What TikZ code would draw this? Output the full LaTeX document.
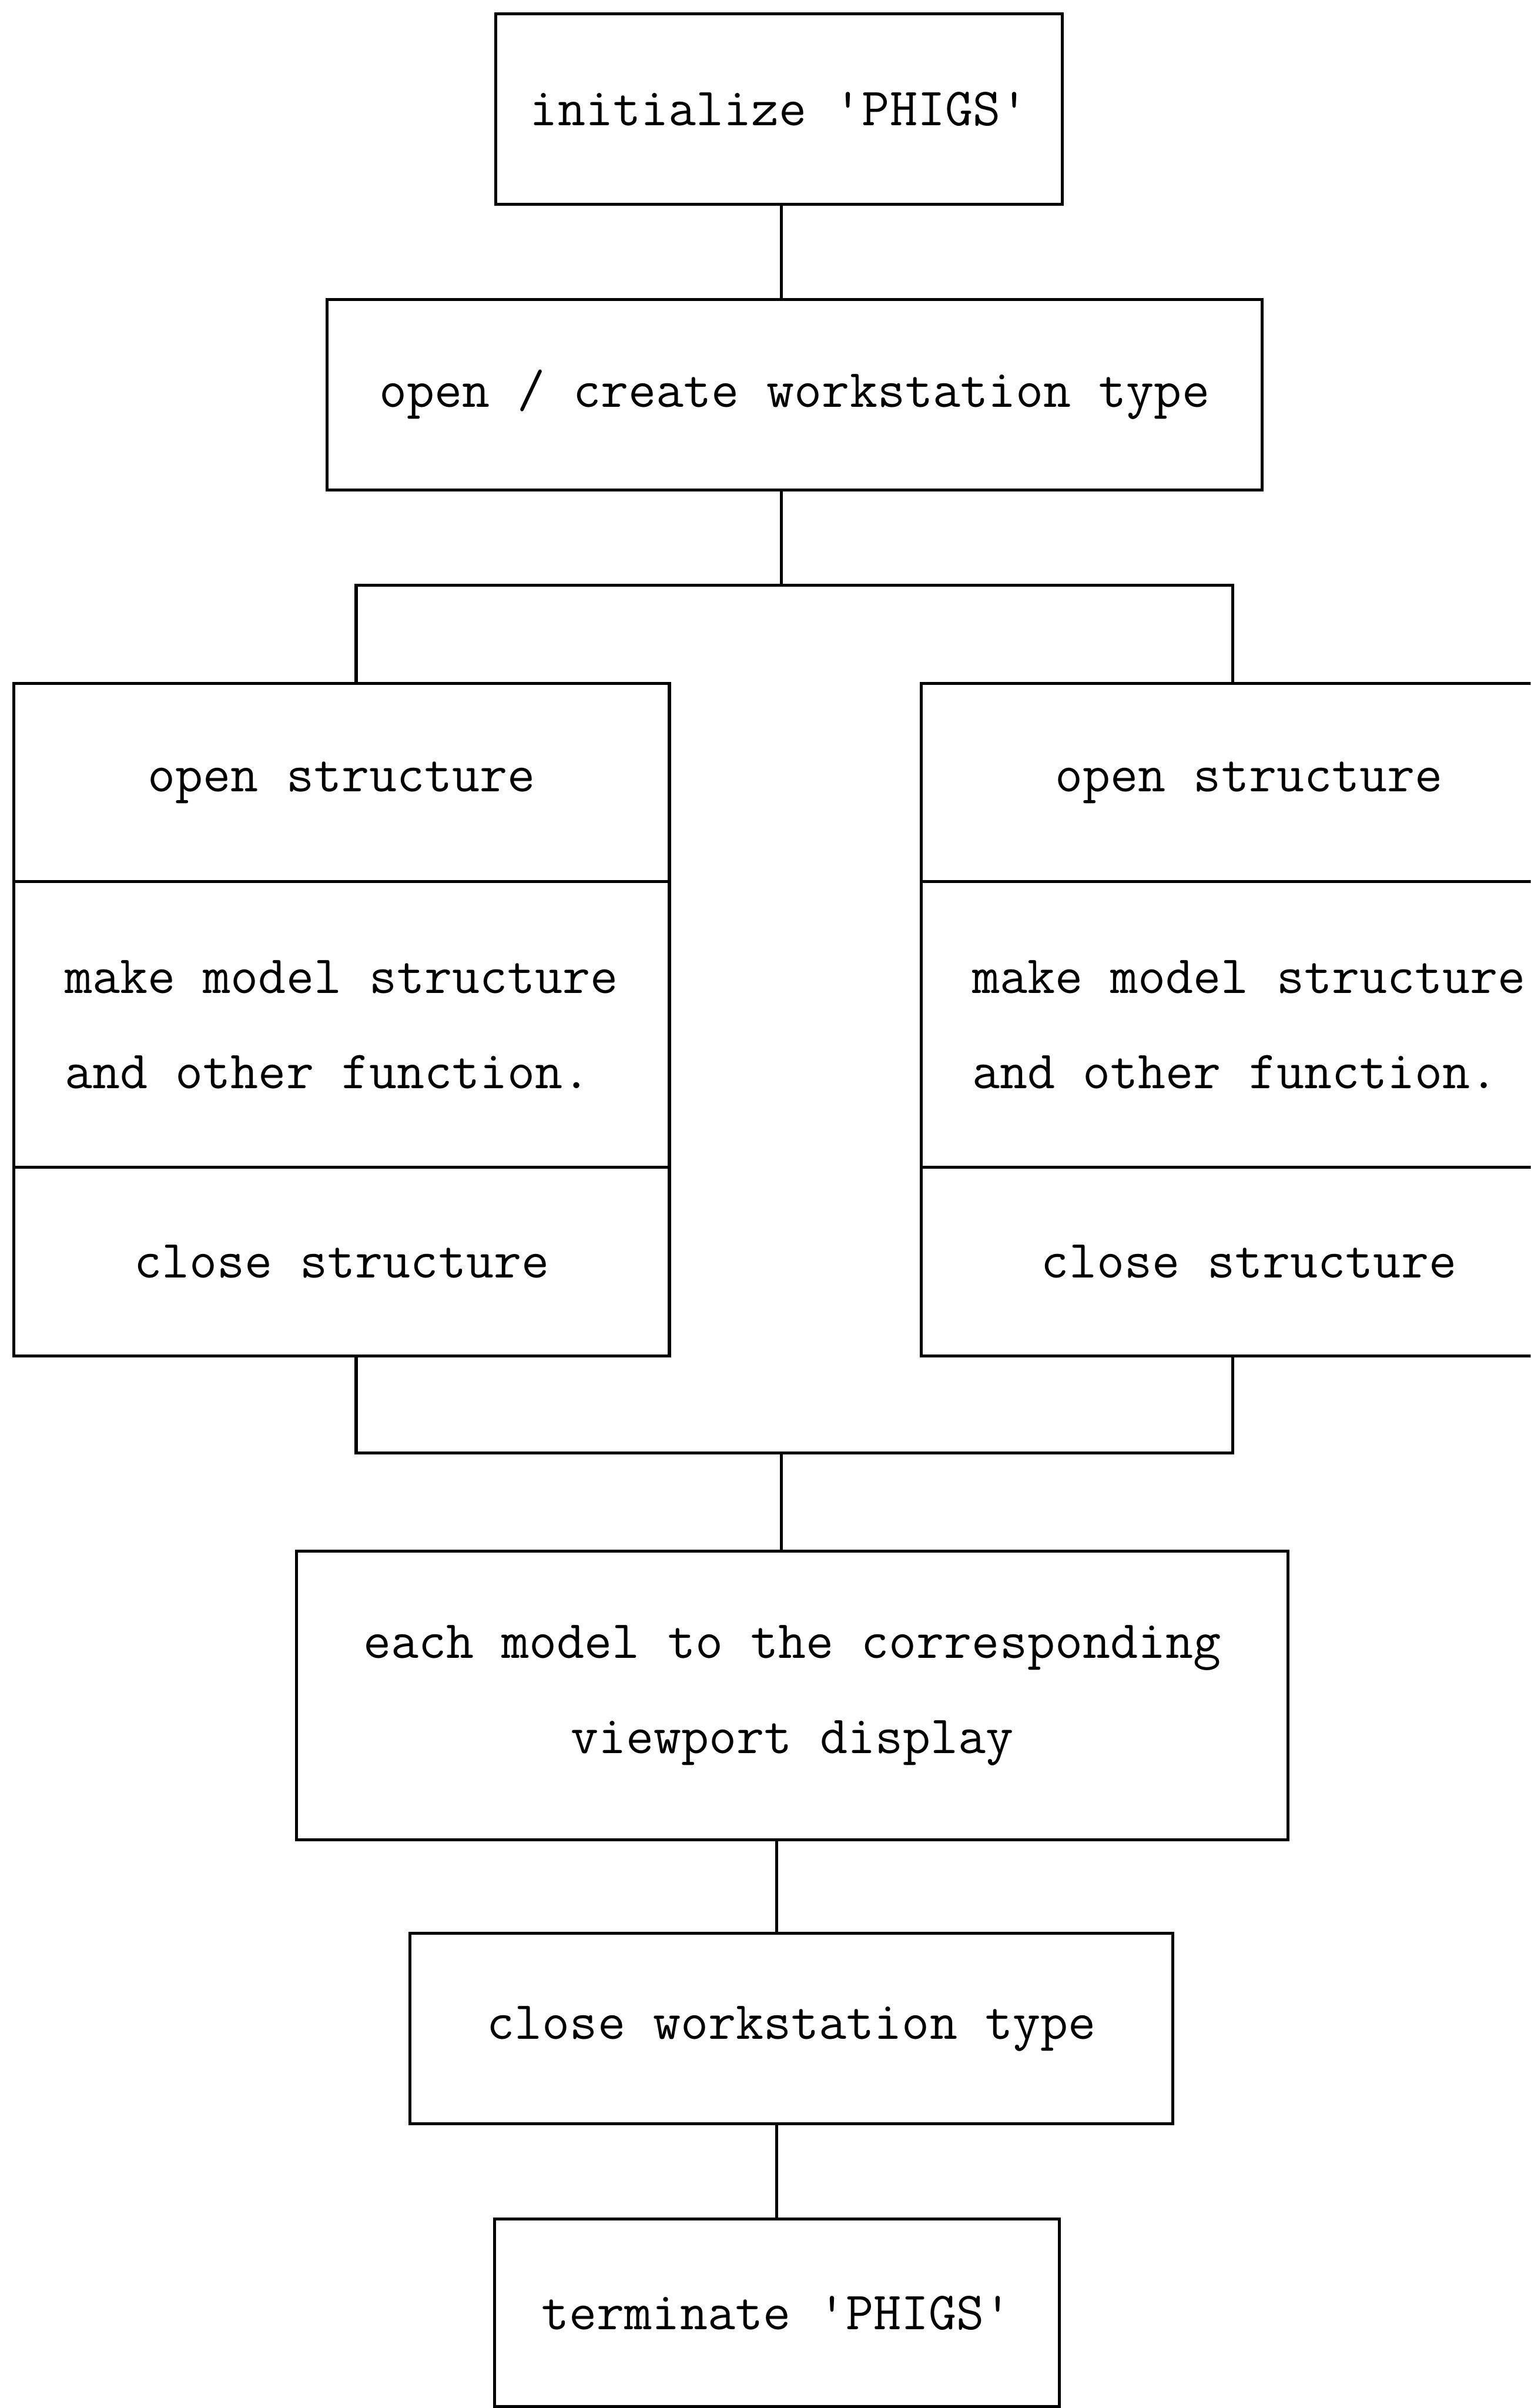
\documentclass[tikz,border=0pt]{standalone}
\usetikzlibrary{positioning}

\begin{document}
\begin{tikzpicture}[x=0.5pt,y=-0.5pt, line width=1pt,
    every node/.style={font=\ttfamily\fontsize{17.5pt}{31pt}\selectfont},
    stepbox/.style={draw, rectangle, inner sep=0pt, align=center},
    colbox/.style={stepbox, minimum width=213.5pt, align=left}]
\useasboundingbox (0,0) rectangle (997,1568);
\clip (0,0) rectangle (997,1568);
\node[stepbox, minimum width=184.5pt, minimum height=62pt] (init) at (507.5,71) {initialize 'PHIGS'};
\node[stepbox, minimum width=304.5pt, minimum height=62pt] (openws) at (517.5,257) {open / create workstation type};
\node[colbox, minimum height=64.5pt] (lopen) at (222.5,509.5) {open structure};
\node[colbox, minimum height=93pt] (lmake) at (222.5,667) {make model structure\\and other function.};
\node[colbox, minimum height=61.5pt] (lclose) at (222.5,821.5) {close structure};
\node[colbox, minimum height=64.5pt] (ropen) at (813.5,509.5) {open structure};
\node[colbox, minimum height=93pt] (rmake) at (813.5,667) {make model structure\\and other function.};
\node[colbox, minimum height=61.5pt] (rclose) at (813.5,821.5) {close structure};
\node[stepbox, minimum width=323pt, minimum height=94pt] (display) at (516,1104) {each model to the corresponding\\viewport display};
\node[stepbox, minimum width=248.5pt, minimum height=62pt] (closews) at (515.5,1321) {close workstation type};
\node[stepbox, minimum width=184pt, minimum height=61pt] (term) at (506,1506) {terminate 'PHIGS'};
\coordinate (lsplit) at (232,381);
\coordinate (rsplit) at (803,381);
\coordinate (lmerge) at (232,946);
\coordinate (rmerge) at (803,946);
\coordinate (join) at (509,946);
\draw (init.south -| join) -- (openws.north -| join);
\draw (openws.south -| join) -- (join |- lsplit);
\draw (lopen.north -| lsplit) -- (lsplit) -- (rsplit) -- (ropen.north -| rsplit);
\draw (lclose.south -| lmerge) -- (lmerge) -- (rmerge) -- (rclose.south -| rmerge);
\draw (join) -- (display.north -| join);
\draw (display.south -| term.north) -- (closews.north -| term.north);
\draw (closews.south -| term.north) -- (term.north);
\end{tikzpicture}
\end{document}
